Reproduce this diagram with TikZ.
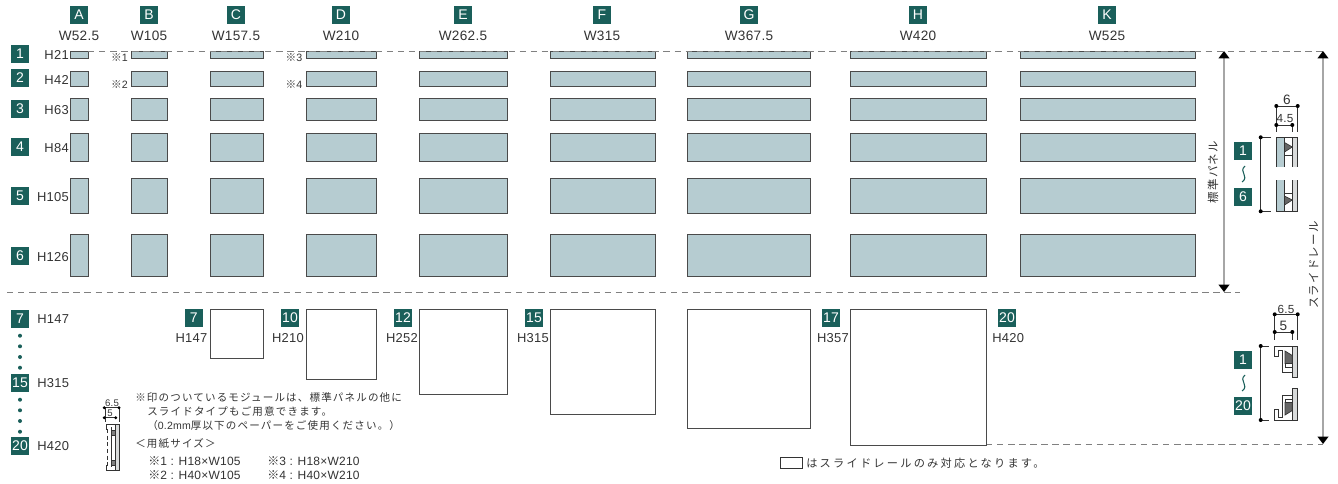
\documentclass[tikz,border=0pt]{standalone}
\usepackage{fontspec}
\setmainfont[LetterSpace=2]{Liberation Sans}
\newfontfamily\cjk[LetterSpace=11]{Noto Sans CJK JP}
\newfontfamily\cjkwide[LetterSpace=20]{Noto Sans CJK JP}
\usetikzlibrary{arrows.meta}
\definecolor{badgeteal}{HTML}{1A5F5A}
\definecolor{panelblue}{HTML}{B6CCD1}
\definecolor{framegray}{HTML}{4A4A4A}
\definecolor{railgray}{HTML}{D9DBDB}
\definecolor{inkgray}{HTML}{333333}
\tikzset{
	badge/.style={fill=badgeteal,text=white,minimum size=18*0.75pt,inner sep=0pt,font=\fontsize{10.5}{11}\selectfont},
	lab/.style={text=inkgray,inner sep=0pt,font=\fontsize{10.2}{11}\selectfont},
	hlab/.style={lab,font=\fontsize{9.7}{11}\selectfont},
	panel/.style={draw=framegray,fill=panelblue,line width=0.7pt},
	blank/.style={draw=framegray,line width=0.7pt},
	note/.style={text=inkgray,inner sep=0pt,anchor=west,font=\fontsize{7.9}{9}\selectfont},
	sizenote/.style={note,font=\fontsize{9}{10}\selectfont},
	dim/.style={draw=inkgray,line width=0.5pt},
	guide/.style={draw=gray,line width=0.75pt,dash pattern=on 4.8pt off 3.5pt},
	span/.style={draw=black!35,line width=1.2pt,{Triangle[black,length=5.5pt,width=8pt]}-{Triangle[black,length=5.5pt,width=8pt]}},
	squig/.style={draw=badgeteal,line width=0.8pt},
}
\begin{document}
\begin{tikzpicture}[x=0.75pt,y=-0.75pt]
	\useasboundingbox (0,0) rectangle (1338,483);

	% column heads
	\node (colA) at (79,15)[badge]{A};
	\node (colB) at (149,15)[badge]{B};
	\node (colC) at (236,15)[badge]{C};
	\node (colD) at (341,15)[badge]{D};
	\node (colE) at (463,15)[badge]{E};
	\node (colF) at (602,15)[badge]{F};
	\node (colG) at (749,15)[badge]{G};
	\node (colH) at (918,15)[badge]{H};
	\node (colK) at (1107,15)[badge]{K};
	\node (wA) at (79,36)[lab]{W52.5};
	\node (wB) at (149,36)[lab]{W105};
	\node (wC) at (236,36)[lab]{W157.5};
	\node (wD) at (341,36)[lab]{W210};
	\node (wE) at (463,36)[lab]{W262.5};
	\node (wF) at (602,36)[lab]{W315};
	\node (wG) at (749,36)[lab]{W367.5};
	\node (wH) at (918,36)[lab]{W420};
	\node (wK) at (1107,36)[lab]{W525};

	% row heads
	\node (row1) at (20,54)[badge]{1};
	\node (row2) at (20,78)[badge]{2};
	\node (row3) at (20,109)[badge]{3};
	\node (row4) at (20,147)[badge]{4};
	\node (row5) at (20,196)[badge]{5};
	\node (row6) at (20,256)[badge]{6};
	\node (h21) at (69,55)[hlab,anchor=east]{H21};
	\node (h42) at (69,80)[hlab,anchor=east]{H42};
	\node (h63) at (69,110)[hlab,anchor=east]{H63};
	\node (h84) at (69,148)[hlab,anchor=east]{H84};
	\node (h105) at (69,197)[hlab,anchor=east]{H105};
	\node (h126) at (69,257)[hlab,anchor=east]{H126};

	% standard panels
	\draw[panel](70.5,51)rectangle(88,58);
	\draw[panel](131.5,51)rectangle(167,58);
	\draw[panel](210,51)rectangle(263,58);
	\draw[panel](306,51)rectangle(376,58);
	\draw[panel](419,51)rectangle(507,58);
	\draw[panel](550,51)rectangle(655,58);
	\draw[panel](687,51)rectangle(810,58);
	\draw[panel](850,51)rectangle(986,58);
	\draw[panel](1020,51)rectangle(1195,58);

	\draw[panel](70.5,71)rectangle(88,86);
	\draw[panel](131.5,71)rectangle(167,86);
	\draw[panel](210,71)rectangle(263,86);
	\draw[panel](306,71)rectangle(376,86);
	\draw[panel](419,71)rectangle(507,86);
	\draw[panel](550,71)rectangle(655,86);
	\draw[panel](687,71)rectangle(810,86);
	\draw[panel](850,71)rectangle(986,86);
	\draw[panel](1020,71)rectangle(1195,86);

	\draw[panel](70.5,98)rectangle(88,120);
	\draw[panel](131.5,98)rectangle(167,120);
	\draw[panel](210,98)rectangle(263,120);
	\draw[panel](306,98)rectangle(376,120);
	\draw[panel](419,98)rectangle(507,120);
	\draw[panel](550,98)rectangle(655,120);
	\draw[panel](687,98)rectangle(810,120);
	\draw[panel](850,98)rectangle(986,120);
	\draw[panel](1020,98)rectangle(1195,120);

	\draw[panel](70.5,133)rectangle(88,161);
	\draw[panel](131.5,133)rectangle(167,161);
	\draw[panel](210,133)rectangle(263,161);
	\draw[panel](306,133)rectangle(376,161);
	\draw[panel](419,133)rectangle(507,161);
	\draw[panel](550,133)rectangle(655,161);
	\draw[panel](687,133)rectangle(810,161);
	\draw[panel](850,133)rectangle(986,161);
	\draw[panel](1020,133)rectangle(1195,161);

	\draw[panel](70.5,178)rectangle(88,213);
	\draw[panel](131.5,178)rectangle(167,213);
	\draw[panel](210,178)rectangle(263,213);
	\draw[panel](306,178)rectangle(376,213);
	\draw[panel](419,178)rectangle(507,213);
	\draw[panel](550,178)rectangle(655,213);
	\draw[panel](687,178)rectangle(810,213);
	\draw[panel](850,178)rectangle(986,213);
	\draw[panel](1020,178)rectangle(1195,213);

	\draw[panel](70.5,234)rectangle(88,276);
	\draw[panel](131.5,234)rectangle(167,276);
	\draw[panel](210,234)rectangle(263,276);
	\draw[panel](306,234)rectangle(376,276);
	\draw[panel](419,234)rectangle(507,276);
	\draw[panel](550,234)rectangle(655,276);
	\draw[panel](687,234)rectangle(810,276);
	\draw[panel](850,234)rectangle(986,276);
	\draw[panel](1020,234)rectangle(1195,276);

	% asterisk marks
	\node (mark1) at (119.5,58)[lab]{\fontsize{8}{9}\selectfont{\cjk ※}1};
	\node (mark2) at (119.5,85)[lab]{\fontsize{8}{9}\selectfont{\cjk ※}2};
	\node (mark3) at (294,58)[lab]{\fontsize{8}{9}\selectfont{\cjk ※}3};
	\node (mark4) at (294,85)[lab]{\fontsize{8}{9}\selectfont{\cjk ※}4};

	% guides
	\coordinate (topL) at (88,51);
	\coordinate (topR) at (1323,51);
	\coordinate (midL) at (7,292);
	\coordinate (midR) at (1240,292);
	\coordinate (botL) at (986,444);
	\coordinate (botR) at (1323,444);
	\draw[guide](topL)--(topR);
	\draw[guide](midL)--(midR);
	\draw[guide](botL)--(botR);

	\coordinate (stdT) at (1224,51);
	\coordinate (stdB) at (1224,292);
	\coordinate (railT) at (1323,51);
	\coordinate (railB) at (1323,444);
	\draw[span](stdT)--(stdB);
	\draw[span](railT)--(railB);
	\node (stdname) at (1213,172)[lab,rotate=90,font=\fontsize{8.6}{9}\selectfont]{\cjk 標準パネル};
	\node (railname) at (1313.5,265)[lab,rotate=90,font=\fontsize{8.6}{9}\selectfont]{\cjk スライドレール};

	% lower rows, left column
	\node (row7) at (20,319)[badge]{7};
	\node (row15) at (20,383)[badge]{15};
	\node (row20) at (20,446)[badge]{20};
	\node (h147) at (37,319)[hlab,anchor=west]{H147};
	\node (h315) at (37,383)[hlab,anchor=west]{H315};
	\node (h420) at (37,446)[hlab,anchor=west]{H420};
	\fill[badgeteal](20,335.7)circle(2);
	\fill[badgeteal](20,346.3)circle(2);
	\fill[badgeteal](20,357)circle(2);
	\fill[badgeteal](20,367.7)circle(2);
	\fill[badgeteal](20,399.7)circle(2);
	\fill[badgeteal](20,410.3)circle(2);
	\fill[badgeteal](20,421)circle(2);
	\fill[badgeteal](20,431.7)circle(2);

	% rail only panels
	\draw[blank](210,309)rectangle(263,358);
	\draw[blank](306,309)rectangle(376,379);
	\draw[blank](419,309)rectangle(507,394);
	\draw[blank](550,309)rectangle(655,414);
	\draw[blank](687,309)rectangle(810,428);
	\draw[blank](850,309)rectangle(986,445);
	\node (sub7) at (193.7,318)[badge]{7};
	\node (sub10) at (290,318)[badge]{10};
	\node (sub12) at (403,318)[badge]{12};
	\node (sub15) at (534,318)[badge]{15};
	\node (sub17) at (831,318)[badge]{17};
	\node (sub20) at (1007,318)[badge]{20};
	\node (subh147) at (207.5,338)[hlab,anchor=east]{H147};
	\node (subh210) at (304,338)[hlab,anchor=east]{H210};
	\node (subh252) at (418,338)[hlab,anchor=east]{H252};
	\node (subh315) at (549,338)[hlab,anchor=east]{H315};
	\node (subh357) at (849,338)[hlab,anchor=east]{H357};
	\node (subh420) at (992,338)[hlab,anchor=west]{H420};

	% right profile, standard
	\node (size6) at (1287,100)[lab]{6};
	\node (size45) at (1285,119)[lab,font=\fontsize{8.8}{9}\selectfont]{4.5};
	\draw[dim](1276.3,106)--(1297.7,106);
	\draw[dim](1276.3,125)--(1292.3,125);
	\draw[dim](1276.3,106)--(1276.3,132);
	\draw[dim](1297.7,106)--(1297.7,132);
	\draw[dim](1292.3,125)--(1292.3,132);
	\fill[black](1276.3,106)circle(2);
	\fill[black](1297.7,106)circle(2);
	\fill[black](1276.3,125)circle(2);
	\fill[black](1292.3,125)circle(2);
	\draw[dim](1271,137.3)--(1260.7,137.3)--(1260.7,211.3)--(1271,211.3);
	\fill[black](1260.7,137.3)circle(2);
	\fill[black](1260.7,211.3)circle(2);
	\fill[panelblue](1276.5,137.5)rectangle(1284.5,167);
	\fill[panelblue](1276.5,180)rectangle(1284.5,211);
	\fill[railgray](1292.3,137.5)rectangle(1297.7,167);
	\fill[railgray](1292.3,180)rectangle(1297.7,211);
	\draw[dim](1276.5,167)--(1276.5,137.5)--(1297.7,137.5)--(1297.7,167);
	\draw[dim](1276.5,180)--(1276.5,211)--(1297.7,211)--(1297.7,180);
	\draw[dim](1284.5,137.5)--(1284.5,167);
	\draw[dim](1284.5,180)--(1284.5,211);
	\draw[dim](1292.3,137.5)--(1292.3,167);
	\draw[dim](1292.3,180)--(1292.3,211);
	\draw[dim](1284.5,155)--(1292.3,155);
	\draw[dim](1284.5,193)--(1292.3,193);
	\draw[dim,fill=black!60](1284.5,142.5)--(1292.3,147)--(1284.5,152)--cycle;
	\draw[dim,fill=black!60](1284.5,205)--(1292.3,200)--(1284.5,196)--cycle;
	\node (std1) at (1243,151)[badge]{1};
	\node (std6) at (1243,197)[badge]{6};
	\draw[squig](1245,166)..controls(1238,172)and(1250,176)..(1242,182);

	% right profile, rail
	\node (size65) at (1286,309.5)[lab,font=\fontsize{8.8}{9}\selectfont]{6.5};
	\node (size5) at (1283.3,326)[lab]{5};
	\draw[dim](1274.7,314.3)--(1297.7,314.3);
	\draw[dim](1274.7,332)--(1292.3,332);
	\draw[dim](1274.7,314.3)--(1274.7,340);
	\draw[dim](1297.7,314.3)--(1297.7,340);
	\draw[dim](1292.3,332)--(1292.3,340);
	\fill[black](1274.7,314.3)circle(2);
	\fill[black](1297.7,314.3)circle(2);
	\fill[black](1274.7,332)circle(2);
	\fill[black](1292.3,332)circle(2);
	\draw[dim](1269,346)--(1260.7,346)--(1260.7,420)--(1269,420);
	\fill[black](1260.7,346)circle(2);
	\fill[black](1260.7,420)circle(2);
	\draw[dim,fill=railgray](1292.3,346)rectangle(1297.7,377.5);
	\draw[dim,fill=railgray](1292.3,388.5)rectangle(1297.7,420);
	\draw[dim](1292.3,346.5)--(1274.5,346.5)--(1274.5,356.7)--(1278.3,356.7)--(1278.3,350)--(1282.3,350)--(1282.3,372)--(1292.3,372);
	\draw[dim](1292.3,420)--(1274.5,420)--(1274.5,409.3)--(1278.3,409.3)--(1278.3,417)--(1282.3,417)--(1282.3,395)--(1292.3,395);
	\draw[dim](1285,351)--(1285,367)--(1292.3,367);
	\draw[dim](1285,415)--(1285,399.5)--(1292.3,399.5);
	\draw[dim,fill=black!60](1285,351)--(1292.3,355.5)--(1292.3,363.5)--(1285,363.5)--cycle;
	\draw[dim,fill=black!60](1285,415)--(1292.3,410.5)--(1292.3,402.5)--(1285,402.5)--cycle;
	\node (rail1) at (1243,360)[badge]{1};
	\node (rail20) at (1243,406)[badge]{20};
	\draw[squig](1245,375)..controls(1238,381)and(1250,385)..(1242,391);

	% small profile
	\node (tiny65) at (112,403.3)[lab,font=\fontsize{7.2}{8}\selectfont]{6.5};
	\node (tiny5) at (110,413.3)[lab,font=\fontsize{7.2}{8}\selectfont]{5};
	\draw[dim](104.3,407.7)--(119,407.7);
	\draw[dim](104.3,417.7)--(115.7,417.7);
	\draw[dim](105.5,407.7)--(105.5,421.7);
	\draw[dim](119,407.7)--(119,421.7);
	\fill[black](104.3,407.7)circle(1.6);
	\fill[black](119,407.7)circle(1.6);
	\fill[black](104.3,417.7)circle(1.6);
	\fill[black](115.7,417.7)circle(1.6);
	\draw[dim,fill=railgray](115.7,424.3)rectangle(119.7,470);
	\draw[dim,line width=0.7pt](115.7,424.3)--(106,424.3)--(106,429)--(108,429);
	\draw[dim,line width=0.7pt](115.7,470)--(106,470)--(106,465)--(108,465);
	\draw[dim,densely dashed,line width=0.7pt](107.7,429)--(107.7,465);
	\draw[dim](111.7,427)--(111.7,467);
	\draw[dim,fill=black!50](111.7,430)rectangle(115.7,435);
	\draw[dim,fill=black!50](111.7,460)rectangle(115.7,465);

	% notes
	\node (note1) at (135,397)[note]{\cjk ※印のついているモジュールは、標準パネルの他に};
	\node (note2) at (147,411)[note]{\cjk スライドタイプもご用意できます。};
	\node (note3) at (147,425)[note]{{\cjk （}0.2mm{\cjk 厚以下のペーパーをご使用ください。）}};
	\node (note4) at (135,444)[note]{\cjk ＜用紙サイズ＞};
	\node (size1) at (148,461)[sizenote]{{\cjk ※}1 : H18×W105};
	\node (size2) at (148,475)[sizenote]{{\cjk ※}2 : H40×W105};
	\node (size3) at (267,461)[sizenote]{{\cjk ※}3 : H18×W210};
	\node (size4) at (267,475)[sizenote]{{\cjk ※}4 : H40×W210};

	% legend
	\draw[dim,line width=0.7pt](780,457.3)rectangle(802.7,468.3);
	\node (legend) at (806,463)[note,font=\fontsize{8.4}{9}\selectfont]{\cjkwide はスライドレールのみ対応となります。};
\end{tikzpicture}
\end{document}
